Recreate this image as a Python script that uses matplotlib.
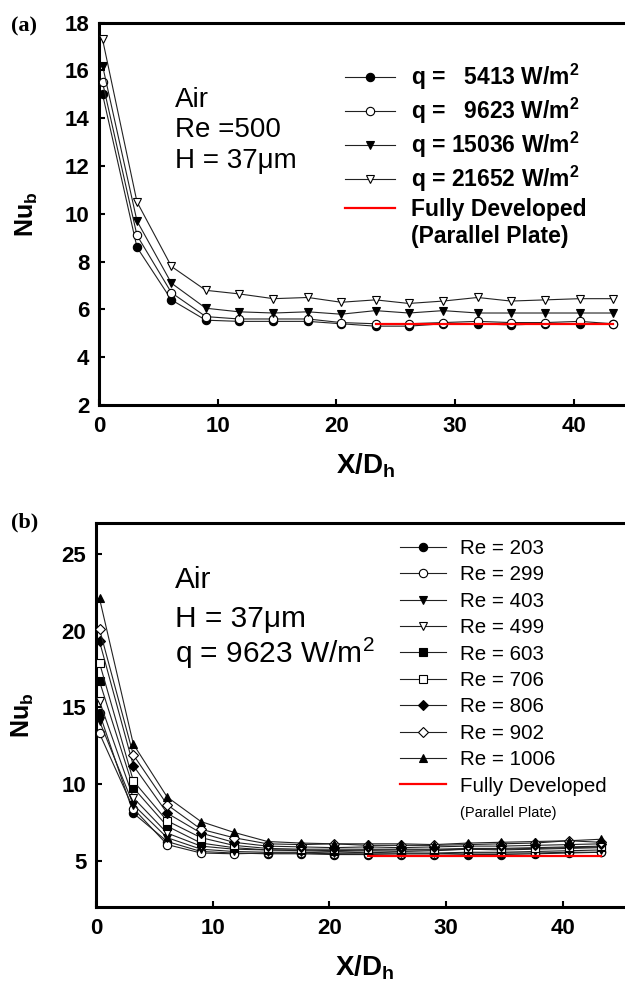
import matplotlib
matplotlib.use("Agg")
import matplotlib.pyplot as plt
from matplotlib.lines import Line2D

# x positions shared by every series (X/D_h)
x_dh = [0.3, 3.2, 6.1, 9.0, 11.8, 14.7, 17.6, 20.4, 23.3, 26.1, 29.0, 31.9, 34.7, 37.6, 40.5, 43.3]

# panel (a): Re = 500, four heat fluxes
q_labels = ["q =   5413 W/m", "q =   9623 W/m", "q = 15036 W/m", "q = 21652 W/m"]
nu_q5413 = [15.0, 8.6, 6.4, 5.55, 5.5, 5.5, 5.5, 5.4, 5.3, 5.3, 5.4, 5.4, 5.35, 5.4, 5.4, 5.4]
nu_q9623 = [15.5, 9.1, 6.7, 5.7, 5.6, 5.6, 5.6, 5.45, 5.4, 5.4, 5.45, 5.5, 5.45, 5.45, 5.5, 5.4]
nu_q15036 = [16.2, 9.7, 7.1, 6.05, 5.9, 5.85, 5.9, 5.8, 5.95, 5.85, 5.95, 5.85, 5.85, 5.85, 5.85, 5.85]
nu_q21652 = [17.3, 10.5, 7.8, 6.8, 6.65, 6.45, 6.5, 6.3, 6.4, 6.25, 6.35, 6.5, 6.35, 6.4, 6.45, 6.45]

# panel (b): q = 9623 W/m2, nine Reynolds numbers
re_labels = ["Re = 203", "Re = 299", "Re = 403", "Re = 499", "Re = 603",
             "Re = 706", "Re = 806", "Re = 902", "Re = 1006"]
nu_re203 = [14.6, 8.1, 6.25, 5.6, 5.5, 5.45, 5.45, 5.4, 5.4, 5.35, 5.35, 5.4, 5.4, 5.45, 5.5, 5.55]
nu_re299 = [13.3, 8.4, 6.05, 5.5, 5.45, 5.5, 5.5, 5.45, 5.45, 5.45, 5.45, 5.5, 5.5, 5.5, 5.55, 5.55]
nu_re403 = [14.1, 8.65, 6.5, 5.75, 5.6, 5.55, 5.55, 5.5, 5.55, 5.5, 5.5, 5.55, 5.55, 5.6, 5.65, 5.7]
nu_re499 = [15.4, 9.1, 6.8, 5.95, 5.75, 5.7, 5.65, 5.6, 5.65, 5.6, 5.65, 5.75, 5.7, 5.75, 5.8, 5.85]
nu_re603 = [16.7, 9.75, 7.25, 6.15, 5.85, 5.7, 5.7, 5.65, 5.7, 5.7, 5.7, 5.75, 5.75, 5.8, 5.85, 5.9]
nu_re706 = [17.9, 10.2, 7.6, 6.5, 6.0, 5.8, 5.75, 5.75, 5.75, 5.75, 5.75, 5.8, 5.8, 5.85, 5.9, 5.95]
nu_re806 = [19.3, 11.2, 8.1, 6.8, 6.2, 5.95, 5.9, 5.85, 5.9, 5.85, 5.9, 5.95, 5.95, 6.0, 6.05, 6.1]
nu_re902 = [20.1, 11.9, 8.65, 7.05, 6.5, 6.1, 6.05, 6.1, 6.0, 6.0, 6.0, 6.05, 6.1, 6.15, 6.3, 6.2]
nu_re1006 = [22.1, 12.6, 9.15, 7.55, 6.85, 6.25, 6.15, 6.1, 6.1, 6.1, 6.05, 6.15, 6.2, 6.25, 6.3, 6.4]

# fully developed parallel plate value
fd_x = [23.3, 43.3]
fd_nu_a = [5.4, 5.4]
fd_nu_b = [5.3, 5.3]

W, H = 625, 986
SANS = "Liberation Sans"
plt.rcParams["font.family"] = [SANS, "DejaVu Sans"]
plt.rcParams["mathtext.fontset"] = "custom"
plt.rcParams["mathtext.rm"] = SANS
plt.rcParams["mathtext.bf"] = SANS + ":bold"
plt.rcParams["mathtext.it"] = SANS + ":italic"


def fx(px):
    return px / W


def fy(py):
    return 1 - py / H


def style_axes(ax, xlim, ylim, yticks):
    ax.set_xlim(*xlim)
    ax.set_ylim(*ylim)
    ax.set_xticks([0, 10, 20, 30, 40])
    ax.set_yticks(yticks)
    for side in ["left", "bottom", "top"]:
        ax.spines[side].set_linewidth(2.2)
    ax.spines["right"].set_visible(False)
    ax.tick_params(direction="in", length=4, width=1.5, labelsize=16)
    ax.tick_params(axis="y", pad=7)
    ax.tick_params(axis="x", pad=8)
    for lab in ax.get_xticklabels() + ax.get_yticklabels():
        lab.set_fontweight("bold")


def series(ax, y, marker, filled, ms=6):
    ax.plot(x_dh, y, color="#222222", lw=0.8, marker=marker, ms=ms,
            mfc="black" if filled else "white", mec="black", mew=0.8, zorder=3)


def labels(ax, ylab_px, xlab_px, ax_left, ax_bottom, ax_w, ax_h):
    ax.set_ylabel(r"$\mathbf{Nu_b}$", fontsize=18)
    ax.set_xlabel(r"$\mathbf{X/D_h}$", fontsize=20)
    ax.yaxis.set_label_coords((ylab_px - ax_left) / ax_w, 0.5)
    ax.xaxis.set_label_coords(0.5, -(xlab_px - ax_bottom) / ax_h)


fig = plt.figure(figsize=(W / 100, H / 100), dpi=100)

# ---------------- panel (a)
a_left, a_bottom, a_w, a_h = 99, 405, 45 * 11.87, 405 - 22.7
ax_a = fig.add_axes([fx(a_left), fy(a_bottom), fx(a_w), a_h / H])
style_axes(ax_a, (0, 45), (2, 18), range(2, 19, 2))
styles_a = [("o", True), ("o", False), ("v", True), ("v", False)]
for y, (m, f) in zip([nu_q5413, nu_q9623, nu_q15036, nu_q21652], styles_a):
    series(ax_a, y, m, f)
ax_a.plot(fd_x, fd_nu_a, color="red", lw=1.6, zorder=4)
labels(ax_a, 40, 452, a_left, a_bottom, a_w, a_h)

handles = [Line2D([], [], color="#222222", lw=0.8, marker=m, ms=6,
                  mfc="black" if f else "white", mec="black", mew=0.8)
           for m, f in styles_a]
handles += [Line2D([], [], color="red", lw=1.6), Line2D([], [], color="none")]
leg_labels = [s + r"$^{\mathbf{2}}$" for s in q_labels] + ["Fully Developed", "(Parallel Plate)"]
ax_a.legend(handles, leg_labels, loc="upper left", bbox_to_anchor=(fx(345), fy(62)),
            bbox_transform=fig.transFigure, frameon=False,
            prop={"size": 16.5, "weight": "bold"}, handlelength=2.2,
            handletextpad=0.7, labelspacing=0.17, borderpad=0, borderaxespad=0)

fig.text(fx(175), fy(107), "Air", fontsize=20)
fig.text(fx(175), fy(137), "Re =500", fontsize=20)
fig.text(fx(175), fy(168), "H = 37μm", fontsize=20)
fig.text(fx(11), fy(31), "(a)", fontsize=16, fontweight="bold",
         family="Liberation Serif")

# ---------------- panel (b)
b_left, b_bottom, b_w, b_h = 96, 906.7, 46 * 11.67, 906.7 - 523.3
ax_b = fig.add_axes([fx(b_left), fy(b_bottom), fx(b_w), b_h / H])
style_axes(ax_b, (0, 46), (2, 27), [5, 10, 15, 20, 25])
styles_b = [("o", True), ("o", False), ("v", True), ("v", False), ("s", True),
            ("s", False), ("D", True), ("D", False), ("^", True)]
nu_b = [nu_re203, nu_re299, nu_re403, nu_re499, nu_re603, nu_re706,
        nu_re806, nu_re902, nu_re1006]
for y, (m, f) in zip(nu_b, styles_b):
    series(ax_b, y, m, f, ms=5 if m == "D" else 6)
ax_b.plot(fd_x, fd_nu_b, color="red", lw=1.6, zorder=4)
labels(ax_b, 36, 954, b_left, b_bottom, b_w, b_h)

handles = [Line2D([], [], color="#222222", lw=0.8, marker=m, ms=5 if m == "D" else 6,
                  mfc="black" if f else "white", mec="black", mew=0.8)
           for m, f in styles_b]
handles += [Line2D([], [], color="red", lw=1.6), Line2D([], [], color="none")]
leg_labels = re_labels + ["Fully Developed", "(Parallel Plate)"]
leg = ax_b.legend(handles, leg_labels, loc="upper left", bbox_to_anchor=(fx(400), fy(539)),
                  bbox_transform=fig.transFigure, frameon=False,
                  prop={"size": 14.8}, handlelength=2.25, handletextpad=0.68,
                  labelspacing=0.36, borderpad=0, borderaxespad=0)
leg.get_texts()[-1].set_fontsize(10.5)

fig.text(fx(175), fy(588), "Air", fontsize=21.5)
fig.text(fx(175), fy(627), "H = 37μm", fontsize=21.5)
fig.text(fx(175), fy(663), r"q = 9623 W/m$^2$", fontsize=21.5)
fig.text(fx(11), fy(527), "(b)", fontsize=16, fontweight="bold",
         family="Liberation Serif")

fig.savefig("out.png", dpi=100)
